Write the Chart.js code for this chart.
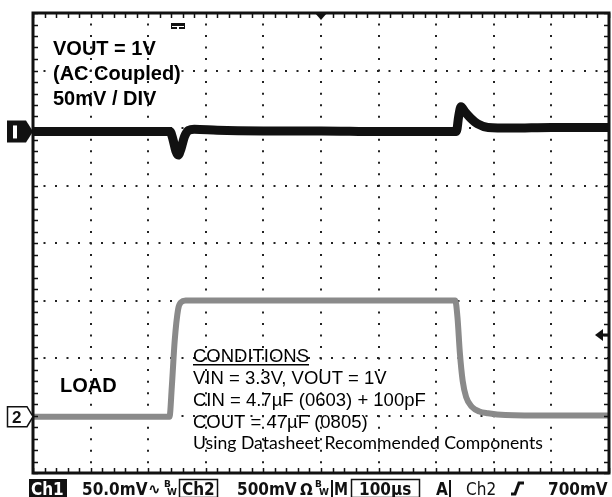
<!DOCTYPE html>
<html>
<head>
<meta charset="utf-8">
<script src="https://cdn.jsdelivr.net/npm/chart.js@4.4.0/dist/chart.umd.min.js"></script>
<style>
  html, body { margin: 0; padding: 0; background: #fff; }
</style>
</head>
<body>
<canvas id="scope" width="612" height="497"></canvas>
<script>
// time in divisions (100us/div), level in divisions (0 = bottom of screen)
const ch1Time  = [0, 1, 2, 2.38, 2.43, 2.48, 2.52, 2.57, 2.63, 2.7, 2.8, 3.2, 4, 5, 6, 7, 7.35, 7.39, 7.43, 7.5, 7.6, 7.72, 7.9, 8.3, 9, 10];
const ch1Level = [5.94, 5.94, 5.94, 5.94, 5.8, 5.6, 5.53, 5.64, 5.85, 5.96, 5.98, 5.96, 5.95, 5.95, 5.94, 5.94, 5.94, 6.2, 6.37, 6.28, 6.17, 6.07, 6.01, 6.0, 6.01, 6.01];
const ch2Time  = [0, 1, 2, 2.37, 2.41, 2.46, 2.52, 2.57, 2.65, 3, 4, 5, 6, 7, 7.33, 7.37, 7.41, 7.46, 7.52, 7.62, 7.75, 7.9, 8.2, 9, 10];
const ch2Level = [0.98, 0.98, 0.98, 0.98, 1.5, 2.3, 2.85, 2.97, 3.0, 3.0, 3.0, 3.0, 3.0, 3.0, 3.0, 2.7, 2.1, 1.6, 1.32, 1.15, 1.07, 1.04, 1.01, 1.0, 1.0];

const ch1Ground = 5.94;
const ch2Ground = 0.98;
const trigLevel = 2.4;
const trigTime = 5;

const divsX = 10;
const divsY = 8;
const minorPerDiv = 5;

const noteLines = ['VOUT = 1V', '(AC Coupled)', '50mV / DIV'];
const condLines = ['VIN = 3.3V, VOUT = 1V', 'CIN = 4.7\u00b5F (0603) + 100pF', 'COUT = 47\u00b5F (0805)'];
const condTitle = 'CONDITIONS';
const condFoot = 'Using Datasheet Recommended Components';
const loadLabel = 'LOAD';

const ch1Tag = 'Ch1';
const ch1Scale = '50.0mV';
const ch2Tag = 'Ch2';
const ch2Scale = '500mV';
const timeScale = '100\u00b5s';
const trigSource = 'Ch2';
const trigValue = '700mV';

function toPoints(xs, ys) {
  return xs.map((x, i) => ({ x: x, y: ys[i] }));
}

const scopeDecor = {
  id: 'scopeDecor',
  afterDraw(chart) {
    const ctx = chart.ctx;
    const a = chart.chartArea;
    const sx = chart.scales.x;
    const sy = chart.scales.y;
    ctx.save();

    // screen border
    ctx.strokeStyle = '#111';
    ctx.lineWidth = 3;
    ctx.strokeRect(a.left, a.top, a.right - a.left, a.bottom - a.top);

    // minor ticks on the border
    ctx.lineWidth = 1.5;
    ctx.beginPath();
    for (let i = 0; i <= divsX * minorPerDiv; i++) {
      const x = Math.round(sx.getPixelForValue(i / minorPerDiv)) + 0.5;
      ctx.moveTo(x, a.top); ctx.lineTo(x, a.top + 5);
      ctx.moveTo(x, a.bottom); ctx.lineTo(x, a.bottom - 5);
    }
    for (let j = 0; j <= divsY * minorPerDiv; j++) {
      const y = Math.round(sy.getPixelForValue(j / minorPerDiv)) + 0.5;
      ctx.moveTo(a.left, y); ctx.lineTo(a.left + 5, y);
      ctx.moveTo(a.right, y); ctx.lineTo(a.right - 5, y);
    }
    ctx.stroke();

    // channel 1 marker
    let y1 = sy.getPixelForValue(ch1Ground);
    ctx.fillStyle = '#111';
    ctx.beginPath();
    ctx.moveTo(7, y1 - 11); ctx.lineTo(26, y1 - 11); ctx.lineTo(33, y1);
    ctx.lineTo(26, y1 + 11); ctx.lineTo(7, y1 + 11); ctx.closePath();
    ctx.fill();
    ctx.fillStyle = '#fff';
    ctx.fillRect(13, y1 - 6, 4, 13);

    // channel 2 marker
    let y2 = sy.getPixelForValue(ch2Ground);
    ctx.fillStyle = '#fff';
    ctx.strokeStyle = '#111';
    ctx.lineWidth = 1.5;
    ctx.beginPath();
    ctx.moveTo(7.5, y2 - 10); ctx.lineTo(27, y2 - 10); ctx.lineTo(33, y2);
    ctx.lineTo(27, y2 + 10); ctx.lineTo(7.5, y2 + 10); ctx.closePath();
    ctx.fill(); ctx.stroke();
    ctx.fillStyle = '#111';
    ctx.font = 'bold 17px "Liberation Sans", Arial, sans-serif';
    ctx.fillText('2', 12, y2 + 6);

    // trigger level arrow (right)
    let yt = sy.getPixelForValue(trigLevel);
    ctx.beginPath();
    ctx.moveTo(595, yt); ctx.lineTo(603, yt - 6); ctx.lineTo(603, yt + 6); ctx.closePath();
    ctx.fill();
    ctx.fillRect(602, yt - 1.5, 6, 3);

    // trigger position (top)
    let xt = sx.getPixelForValue(trigTime);
    ctx.beginPath();
    ctx.moveTo(xt - 6, a.top); ctx.lineTo(xt + 6, a.top); ctx.lineTo(xt, a.top + 7); ctx.closePath();
    ctx.fill();
    ctx.fillRect(171, 23, 14, 6);
    ctx.fillStyle = '#fff';
    ctx.fillRect(172, 26, 12, 1);
    ctx.fillRect(177, 26, 2, 3);

    // annotations
    ctx.fillStyle = '#000';
    ctx.font = 'bold 20px "Liberation Sans", Arial, sans-serif';
    noteLines.forEach((t, i) => ctx.fillText(t, 53, 55 + i * 25));
    ctx.fillText(loadLabel, 60, 392);

    ctx.font = '18.5px "Liberation Sans", Arial, sans-serif';
    ctx.fillText(condTitle, 193, 362, 116);
    ctx.fillRect(193, 364, 116, 1.5);
    condLines.forEach((t, i) => ctx.fillText(t, 193, 384 + i * 22));
    ctx.font = '18px Lato, "Open Sans", sans-serif';
    ctx.fillText(condFoot, 193, 449, 350);

    // status bar
    const sb = 495;
    ctx.font = 'bold 17px "DejaVu Sans Condensed", "DejaVu Sans", sans-serif';
    ctx.fillStyle = '#111';
    ctx.fillRect(29, 479, 38, 18);
    ctx.fillStyle = '#fff';
    ctx.fillText(ch1Tag, 31, sb, 34);
    ctx.fillStyle = '#111';
    ctx.fillText(ch1Scale, 82, sb, 66);
    ctx.font = 'bold 15px "DejaVu Sans", sans-serif';
    ctx.fillText('\u223f', 148, sb - 1, 15);
    ctx.font = 'bold 9px "DejaVu Sans", sans-serif';
    ctx.fillText('B', 164, sb - 8);
    ctx.fillText('W', 167, sb);
    ctx.lineWidth = 1.5;
    ctx.strokeRect(179.5, 479.5, 38, 18);
    ctx.font = 'bold 17px "DejaVu Sans Condensed", "DejaVu Sans", sans-serif';
    ctx.fillText(ch2Tag, 182, sb, 34);
    ctx.fillText(ch2Scale, 237, sb, 61);
    ctx.font = 'bold 15px "DejaVu Sans", sans-serif';
    ctx.fillText('\u03a9', 300, sb, 13);
    ctx.font = 'bold 9px "DejaVu Sans", sans-serif';
    ctx.fillText('B', 315, sb - 8);
    ctx.fillText('W', 319, sb);
    ctx.fillRect(331, 480, 2, 17);
    ctx.font = 'bold 17px "DejaVu Sans Condensed", "DejaVu Sans", sans-serif';
    ctx.fillText('M', 334, sb, 14);
    ctx.strokeRect(351.5, 479.5, 68, 18);
    ctx.fillText(timeScale, 359, sb, 55);
    ctx.fillText('A', 436, sb, 13);
    ctx.fillRect(449, 480, 2, 17);
    ctx.font = '17px "DejaVu Sans Condensed", "DejaVu Sans", sans-serif';
    ctx.fillText(trigSource, 466, sb, 34);
    ctx.lineWidth = 3;
    ctx.beginPath();
    ctx.moveTo(511, sb - 1); ctx.lineTo(515, sb - 1);
    ctx.lineTo(519, sb - 12); ctx.lineTo(524, sb - 12);
    ctx.stroke();
    ctx.font = 'bold 17px "DejaVu Sans Condensed", "DejaVu Sans", sans-serif';
    ctx.fillText(trigValue, 548, sb, 61);

    ctx.restore();
  }
};

const gridStyle = { color: '#222', lineWidth: 2, drawTicks: false };

new Chart(document.getElementById('scope').getContext('2d'), {
  type: 'line',
  data: {
    datasets: [
      {
        label: 'Ch1',
        data: toPoints(ch1Time, ch1Level),
        borderColor: '#111',
        borderWidth: 9,
        pointRadius: 0,
        cubicInterpolationMode: 'monotone'
      },
      {
        label: 'Ch2',
        data: toPoints(ch2Time, ch2Level),
        borderColor: '#8a8a8a',
        borderWidth: 6,
        pointRadius: 0,
        cubicInterpolationMode: 'monotone'
      }
    ]
  },
  options: {
    responsive: false,
    animation: false,
    layout: { padding: { left: 33, right: 3, top: 13, bottom: 24 } },
    plugins: { legend: { display: false }, tooltip: { enabled: false } },
    scales: {
      x: {
        type: 'linear', min: 0, max: divsX,
        ticks: { display: false, stepSize: 1 },
        grid: gridStyle,
        border: { display: false, dash: [2, 9.52], dashOffset: 1 }
      },
      y: {
        type: 'linear', min: 0, max: divsY,
        ticks: { display: false, stepSize: 1 },
        grid: gridStyle,
        border: { display: false, dash: [2, 9.5], dashOffset: 1 }
      }
    }
  },
  plugins: [scopeDecor]
});
</script>
</body>
</html>
